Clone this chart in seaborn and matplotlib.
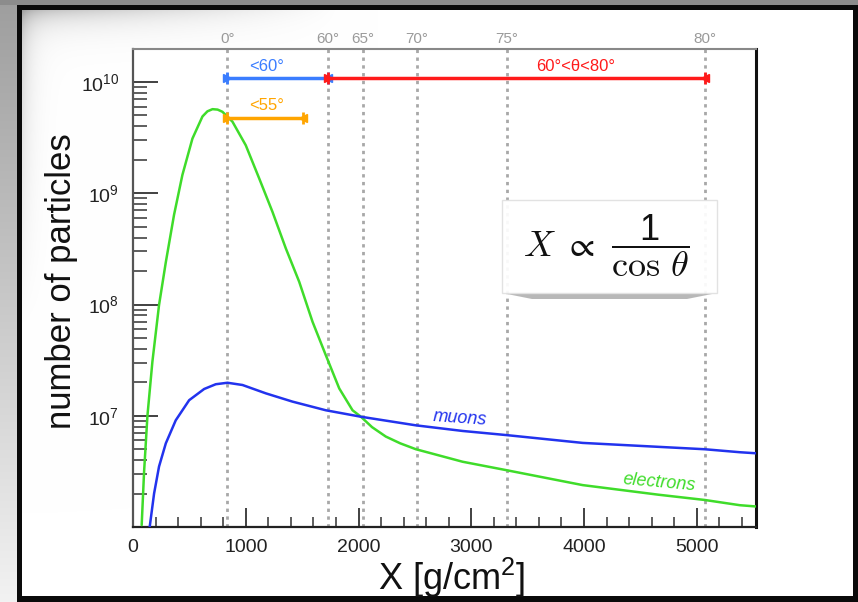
import numpy as np
import pandas as pd
import matplotlib
matplotlib.use("Agg")
import matplotlib.pyplot as plt
import seaborn as sns
from matplotlib.patches import Rectangle, Polygon
from matplotlib.ticker import MultipleLocator, LogLocator, NullFormatter, FixedLocator

# ---------------- data ----------------
electron_x = [77, 98, 128, 172, 231, 291, 364, 438, 527, 616, 660, 705, 750, 793, 882,
              1000, 1119, 1237, 1355, 1474, 1592, 1710, 1829, 1947, 2021, 2120, 2242,
              2370, 2509, 2923, 3313, 3988, 4662, 5070, 5382, 5523]
electron_y = [1.04e6, 3.1e6, 1.0e7, 3.06e7, 9.9e7, 2.4e8, 6.4e8, 1.46e9, 3.1e9, 4.9e9,
              5.45e9, 5.7e9, 5.65e9, 5.4e9, 4.4e9, 2.7e9, 1.36e9, 6.8e8, 3.2e8, 1.6e8,
              7.0e7, 3.5e7, 1.76e7, 1.12e7, 9.8e6, 7.9e6, 6.5e6, 5.65e6, 5.0e6, 3.86e6,
              3.24e6, 2.38e6, 1.95e6, 1.75e6, 1.57e6, 1.53e6]

muon_x = [148, 187, 231, 291, 379, 498, 631, 734, 838, 971, 1178, 1414, 1710, 2021,
          2509, 2923, 3313, 3988, 5070, 5382, 5523]
muon_y = [1.0e6, 2.0e6, 3.5e6, 5.65e6, 9.1e6, 1.38e7, 1.74e7, 1.92e7, 1.98e7, 1.89e7,
          1.59e7, 1.34e7, 1.12e7, 9.8e6, 8.2e6, 7.3e6, 6.7e6, 5.7e6, 5.0e6, 4.7e6,
          4.6e6]

angle_labels = ["0°", "60°", "65°", "70°", "75°", "80°"]
angle_x = [838, 1725, 2036, 2516, 3313, 5070]

x_ticks = [0, 1000, 2000, 3000, 4000, 5000]
y_ticks = [1e7, 1e8, 1e9, 1e10]
y_tick_labels = [r"$10^{7}$", r"$10^{8}$", r"$10^{9}$", r"$10^{10}$"]

bar_labels = ["<60°", "<55°", "60°<θ<80°"]
bar_start = [838, 838, 1725]
bar_end = [1725, 1512, 5070]
bar_y = [1.09e10, 4.72e9, 1.09e10]
bar_label_x = [1184, 1184, 3925]
bar_label_y = [1.37e10, 6.1e9, 1.37e10]
bar_colors = ["#3a7dff", "#ffa500", "#ff1a1a"]

curve_labels = ["muons", "electrons"]
curve_label_x = [2896, 4662]
curve_label_y = [9.5e6, 2.5e6]

# ---------------- styling ----------------
sns.set_theme(style="white")
plt.rcParams["font.family"] = ["Liberation Sans", "DejaVu Sans"]
plt.rcParams["mathtext.default"] = "regular"

W, H = 858, 602
fig = plt.figure(figsize=(W / 100, H / 100), dpi=100)
fig.patch.set_facecolor("#0b0d0c")

# background decoration (screenshot frame)
bg = fig.add_axes([0, 0, 1, 1], zorder=-10)
bg.axis("off")
img = np.full((H, W, 3), 0.04)
yy, xx = np.mgrid[0:H, 0:W]
img[0:5, :, :] = 0.55
left = 0.62 + 0.33 * (yy[:, :17] / H)
img[:, :17, :] = left[..., None]
img[0:5, :17, :] = 0.55
pan = np.ones((H, W))
shade = (0.22 * np.exp(-(yy - 10) / 14.0) * np.clip((340 - xx) / 300.0, 0, 1)
         + 0.16 * np.exp(-(xx - 22) / 10.0) * np.clip((330 - yy) / 300.0, 0, 1))
pan = pan - shade
mask = (yy >= 10) & (yy < 596) & (xx >= 22) & (xx < 853)
for c in range(3):
    img[..., c] = np.where(mask, pan, img[..., c])
bg.imshow(img, extent=[0, 1, 0, 1], aspect="auto", transform=bg.transAxes)
bg.set_xlim(0, 1)
bg.set_ylim(0, 1)

# main axes
L, R, T, B = 133, 756, 49, 527
ax = fig.add_axes([L / W, 1 - B / H, (R - L) / W, (B - T) / H])
ax.set_facecolor("white")

green = "#3fdc2a"
blue = "#2233ee"

sns.lineplot(x=electron_x, y=electron_y, ax=ax, color=green, lw=1.8,
             sort=False, estimator=None, zorder=3)
sns.lineplot(x=muon_x, y=muon_y, ax=ax, color=blue, lw=1.8,
             sort=False, estimator=None, zorder=3)

ax.set_yscale("log")
ax.set_xlim(0, 5525)
ax.set_ylim(1e6, 1.98e10)

# angle guide lines
for xv in angle_x:
    ax.axvline(xv, color="#a8a8a8", lw=2, ls=(0, (1.2, 1.6)), zorder=1)

# range bars
for s, e, yv, col in zip(bar_start, bar_end, bar_y, bar_colors):
    ax.plot([s, e], [yv, yv], color=col, lw=2.5, zorder=4, solid_capstyle="butt")
    ax.plot([s], [yv], marker=">", color=col, ms=6, zorder=4)
    ax.plot([e], [yv], marker="<", color=col, ms=6, zorder=4)
    ax.plot([s, e], [yv, yv], ls="none", marker="|", color=col, ms=8, mew=2, zorder=4)
for lab, lx, ly, col in zip(bar_labels, bar_label_x, bar_label_y, bar_colors):
    ax.text(lx, ly, lab, color=col, fontsize=12, ha="center", va="center", zorder=5)

# curve labels
for lab, lx, ly, col, rot in zip(curve_labels, curve_label_x, curve_label_y,
                                 [blue, green], [-4, -5]):
    ax.text(lx, ly, lab, color=col, fontsize=13, ha="center", va="center",
            rotation=rot, style="italic")

# ticks
ax.set_xticks(x_ticks)
ax.set_xticklabels([str(v) for v in x_ticks])
ax.xaxis.set_minor_locator(MultipleLocator(200))
ax.yaxis.set_major_locator(FixedLocator(y_ticks))
ax.set_yticklabels(y_tick_labels)
ax.yaxis.set_minor_locator(LogLocator(base=10, subs=np.arange(2, 10), numticks=20))
ax.yaxis.set_minor_formatter(NullFormatter())
ax.tick_params(axis="x", which="major", direction="in", length=14, width=1.3,
               color="#333333", labelsize=14, pad=9, bottom=True, top=False)
ax.tick_params(axis="x", which="minor", direction="in", length=7, width=1.1,
               color="#333333", bottom=True, top=False)
ax.tick_params(axis="y", which="major", direction="in", length=18, width=1.3,
               color="#333333", labelsize=14, pad=10, left=True, right=False)
ax.tick_params(axis="y", which="minor", direction="in", length=10, width=1.1,
               color="#333333", left=True, right=False)
for lab in ax.get_xticklabels() + ax.get_yticklabels():
    lab.set_color("#222222")

for side, col, lw in [("left", "#555555", 1.6), ("bottom", "#222222", 1.6),
                      ("top", "#888888", 1.5), ("right", "#111111", 2.2)]:
    ax.spines[side].set_visible(True)
    ax.spines[side].set_color(col)
    ax.spines[side].set_linewidth(lw)

# top angle axis
sec = ax.secondary_xaxis("top")
sec.set_xticks(angle_x)
sec.set_xticklabels(angle_labels)
sec.tick_params(length=0, labelsize=11, labelcolor="#9a9a9a", pad=2)
for sp in sec.spines.values():
    sp.set_visible(False)

ax.set_xlabel("")
ax.set_ylabel("")

# axis titles
fig.text(62 / W, 1 - 281 / H, "number of particles", rotation=90, fontsize=25,
         ha="center", va="center", color="#111111")
fig.text(452 / W, 1 - 578 / H, r"X [g/cm$^{2}$]", fontsize=26, ha="center",
         va="center", color="#111111")

# formula box
bx0, by0, bx1, by1 = 502, 200, 717, 293
fig.add_artist(Polygon([[(bx0 + 5) / W, 1 - (by1 + 1) / H], [(bx1 - 5) / W, 1 - (by1 + 1) / H],
                        [(bx1 - 30) / W, 1 - (by1 + 6) / H], [(bx0 + 30) / W, 1 - (by1 + 6) / H]],
                       closed=True, transform=fig.transFigure, facecolor="#8a8a8a",
                       edgecolor="none", alpha=0.6, zorder=5))
fig.add_artist(Rectangle((bx0 / W, 1 - by1 / H), (bx1 - bx0) / W, (by1 - by0) / H,
                         transform=fig.transFigure, facecolor="white", edgecolor="#e0e0e0",
                         lw=1.0, alpha=0.93, zorder=6))
fig.text(606 / W, 1 - 246 / H,
         r"$\mathit{X}\ \propto\ \dfrac{1}{\cos\,\mathit{\theta}}$", fontsize=26,
         ha="center", va="center", color="#111111", math_fontfamily="cm", zorder=7)

fig.savefig("out.png", dpi=100)
